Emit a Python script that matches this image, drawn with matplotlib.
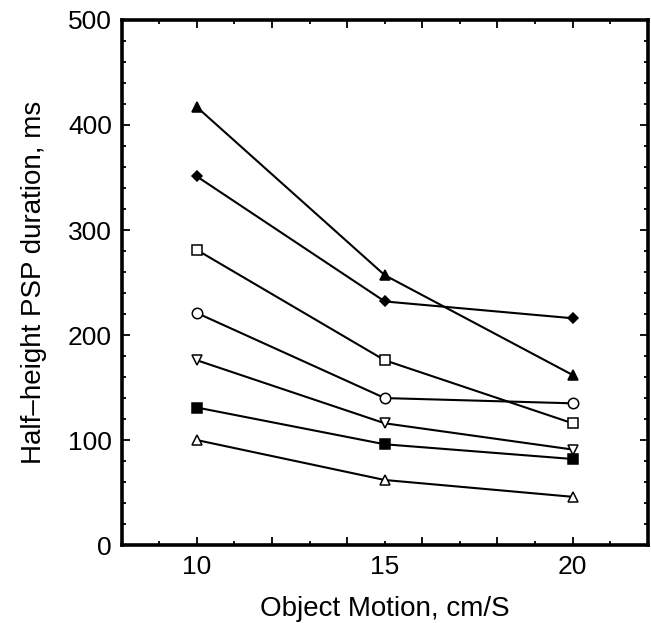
import matplotlib
matplotlib.use("Agg")
import matplotlib.pyplot as plt
from matplotlib.ticker import FixedLocator, FixedFormatter

plt.rcParams['font.family'] = ['Liberation Sans', 'DejaVu Sans']

speed = [10, 15, 20]
# one series per cell, markers as in the original figure
filled_triangle = [417, 257, 162]
filled_diamond = [351, 232, 216]
open_square = [281, 176, 116]
open_circle = [221, 140, 135]
open_down_triangle = [176, 116, 91]
filled_square = [131, 96, 82]
open_triangle = [100, 62, 46]

series = [
    (filled_triangle, '^', 'black'),
    (filled_diamond, 'D', 'black'),
    (open_square, 's', 'white'),
    (open_circle, 'o', 'white'),
    (open_down_triangle, 'v', 'white'),
    (filled_square, 's', 'black'),
    (open_triangle, '^', 'white'),
]
sizes = {'^': 7.5, 'v': 7.5, 'D': 5.5, 's': 7, 'o': 7.5}

fig = plt.figure(figsize=(6.51, 6.23), dpi=100)
ax = fig.add_axes([0.187, 0.125, 0.808, 0.843])

for vals, mk, fc in series:
    ax.plot(speed, vals, color='black', lw=1.5, marker=mk, ms=sizes[mk],
            markerfacecolor=fc, markeredgecolor='black', markeredgewidth=1.1)

ax.set_xlim(8, 22)
ax.set_ylim(0, 500)

# long ticks every 2 from 10, short ticks on odd values; labels at 10, 15, 20
ax.xaxis.set_major_locator(FixedLocator([10, 12, 14, 16, 18, 20]))
ax.xaxis.set_major_formatter(FixedFormatter(['10', '', '', '', '', '20']))
ax.xaxis.set_minor_locator(FixedLocator([9, 11, 13, 15, 17, 19, 21]))
ax.xaxis.set_minor_formatter(FixedFormatter(['', '', '', '15', '', '', '']))
ax.yaxis.set_major_locator(FixedLocator([0, 100, 200, 300, 400, 500]))
ax.yaxis.set_minor_locator(FixedLocator(range(20, 500, 20)))

ax.tick_params(which='both', direction='in', top=True, right=True, width=1.3,
               labelsize=19, pad=7)
ax.tick_params(which='major', length=6)
ax.tick_params(which='minor', length=3)

for s in ax.spines.values():
    s.set_linewidth(2.6)

ax.set_xlabel('Object Motion, cm/S', fontsize=20, labelpad=12)
ax.set_ylabel('Half\u2013height PSP duration, ms', fontsize=20, labelpad=15)

fig.savefig('out.png', dpi=100)
